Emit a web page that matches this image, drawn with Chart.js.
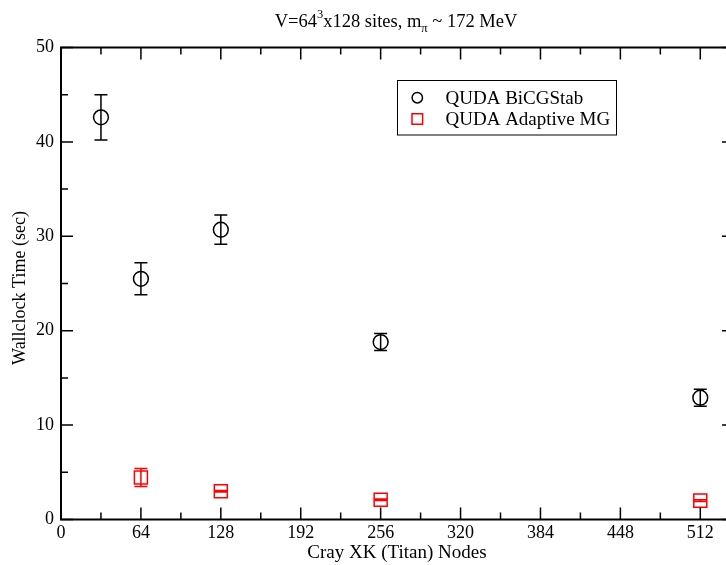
<!DOCTYPE html>
<html>
<head>
<meta charset="utf-8">
<script src="https://cdn.jsdelivr.net/npm/chart.js@4.4.1/dist/chart.umd.min.js"></script>
<style>
html,body{margin:0;padding:0;background:#fff;overflow:hidden;width:726px;height:565px;}
#wrap{position:relative;width:760px;height:565px;}
</style>
</head>
<body>
<div id="wrap"><canvas id="c" width="760" height="565"></canvas></div>
<script>
// ---- data ----
const nodesBiCG = [32, 64, 128, 256, 512];
const timeBiCG  = [42.6, 25.5, 30.7, 18.8, 12.9];
const errBiCG   = [2.4, 1.7, 1.55, 0.9, 0.9];
const nodesMG   = [64, 128, 256, 512];
const timeMG    = [4.45, 3.0, 2.1, 2.0];
const errMG     = [0.95, 0.08, 0.08, 0.08];
const xTickValues = [0, 64, 128, 192, 256, 320, 384, 448, 512];
const xTickStep = 64, xMinorStep = 32;
const yTickStep = 10, yMinorStep = 5;
const xMin = 0, xMax = 539, yMin = 0, yMax = 50;
const titleParts = [["V=64",0],["3",1],["x128 sites, m",0],["π",-1],[" ~ 172 MeV",0]];
const xTitle = "Cray XK (Titan) Nodes";
const yTitle = "Wallclock Time (sec)";
const seriesLabels = ["QUDA BiCGStab", "QUDA Adaptive MG"];

const FONT = '"Liberation Serif", "Times New Roman", serif';

const errBars = {
  id: 'errBars',
  afterDatasetsDraw(chart) {
    const ctx = chart.ctx, xs = chart.scales.x, ys = chart.scales.y;
    chart.data.datasets.forEach(ds => {
      ctx.save();
      ctx.strokeStyle = ds.borderColor; ctx.lineWidth = 1.5;
      ds.data.forEach((p, i) => {
        const e = ds.errors[i];
        const x = xs.getPixelForValue(p.x);
        const y1 = ys.getPixelForValue(p.y + e), y2 = ys.getPixelForValue(p.y - e);
        const cw = 6.5;
        ctx.beginPath();
        ctx.moveTo(x, y1); ctx.lineTo(x, y2);
        ctx.moveTo(x - cw, y1); ctx.lineTo(x + cw, y1);
        ctx.moveTo(x - cw, y2); ctx.lineTo(x + cw, y2);
        ctx.stroke();
      });
      ctx.restore();
    });
  }
};

const frame = {
  id: 'frame',
  afterDraw(chart) {
    const ctx = chart.ctx, a = chart.chartArea, xs = chart.scales.x, ys = chart.scales.y;
    ctx.save();
    ctx.strokeStyle = '#000';
    ctx.lineWidth = 2;
    ctx.strokeRect(a.left, a.top, a.right - a.left, a.bottom - a.top);
    ctx.lineWidth = 1.5;
    ctx.beginPath();
    for (let v = xMin; v <= xMax; v += xMinorStep) {
      const x = xs.getPixelForValue(v);
      const L = (v % xTickStep === 0) ? 12 : 7;
      ctx.moveTo(x, a.bottom); ctx.lineTo(x, a.bottom - L);
      ctx.moveTo(x, a.top); ctx.lineTo(x, a.top + L);
    }
    for (let v = yMin; v <= yMax; v += yMinorStep) {
      const y = ys.getPixelForValue(v);
      const L = (v % yTickStep === 0) ? 12 : 7;
      ctx.moveTo(a.left, y); ctx.lineTo(a.left + L, y);
      ctx.moveTo(a.right, y); ctx.lineTo(a.right - L, y);
    }
    ctx.stroke();

    // title
    ctx.fillStyle = '#000';
    ctx.textBaseline = 'alphabetic';
    const big = '18.5px ' + FONT, small = '12.5px ' + FONT;
    let total = 0;
    titleParts.forEach(([t, s]) => { ctx.font = s ? small : big; total += ctx.measureText(t).width; });
    let x = 396 - total / 2;
    titleParts.forEach(([t, s]) => {
      ctx.font = s ? small : big;
      const dy = s === 1 ? -9 : (s === -1 ? 5 : 0);
      ctx.fillText(t, x, 27 + dy);
      x += ctx.measureText(t).width;
    });

    // axis titles
    ctx.font = '19px ' + FONT;
    ctx.textAlign = 'center';
    ctx.fillText(xTitle, (a.left + a.right) / 2 - 0.5, 558);
    ctx.save();
    ctx.font = '18px ' + FONT;
    ctx.translate(25, 288);
    ctx.rotate(-Math.PI / 2);
    ctx.fillText(yTitle, 0, 0);
    ctx.restore();

    // legend
    ctx.lineWidth = 1;
    ctx.strokeStyle = '#000';
    ctx.strokeRect(397.5, 80.5, 219, 54.5);
    ctx.textAlign = 'left';
    ctx.textBaseline = 'middle';
    ctx.font = '19px ' + FONT;
    chart.data.datasets.forEach((ds, i) => {
      const cy = i === 0 ? 97.7 : 119;
      ctx.lineWidth = 1.5;
      ctx.strokeStyle = ds.borderColor;
      ctx.beginPath();
      if (ds.pointStyle === 'circle') ctx.arc(417.3, cy, 5.2, 0, Math.PI * 2);
      else ctx.rect(417.3 - 5.3, cy - 5.3, 10.6, 10.6);
      ctx.stroke();
      ctx.fillStyle = '#000';
      ctx.fillText(ds.label, 445.5, cy + 1);
    });
    ctx.restore();
  }
};

new Chart(document.getElementById('c'), {
  type: 'scatter',
  data: {
    datasets: [
      {
        label: seriesLabels[0],
        data: nodesBiCG.map((n, i) => ({x: n, y: timeBiCG[i]})),
        errors: errBiCG,
        pointStyle: 'circle', pointRadius: 7.4, pointHoverRadius: 7.4,
        borderColor: '#000', backgroundColor: 'rgba(0,0,0,0)', borderWidth: 1.5
      },
      {
        label: seriesLabels[1],
        data: nodesMG.map((n, i) => ({x: n, y: timeMG[i]})),
        errors: errMG,
        pointStyle: 'rect', pointRadius: 9.2, pointHoverRadius: 9.2,
        borderColor: '#ff0000', backgroundColor: 'rgba(0,0,0,0)', borderWidth: 1.5
      }
    ]
  },
  options: {
    responsive: false, animation: false,
    layout: {padding: {left: 0, right: 26, top: 47.5, bottom: 0}},
    plugins: {legend: {display: false}, title: {display: false}, tooltip: {enabled: false}},
    scales: {
      x: {
        type: 'linear', min: xMin, max: xMax,
        grid: {display: false, drawTicks: false}, border: {display: false},
        afterBuildTicks: s => { s.ticks = xTickValues.map(v => ({value: v})); },
        afterFit: s => { s.height = 45.5; },
        ticks: {color: '#000', font: {family: FONT, size: 18}, padding: 3, maxRotation: 0, autoSkip: false}
      },
      y: {
        type: 'linear', min: yMin, max: yMax,
        grid: {display: false, drawTicks: false}, border: {display: false},
        afterFit: s => { s.width = 61; },
        ticks: {stepSize: yTickStep, color: '#000', font: {family: FONT, size: 18}, padding: 7}
      }
    }
  },
  plugins: [errBars, frame]
});
</script>
</body>
</html>
